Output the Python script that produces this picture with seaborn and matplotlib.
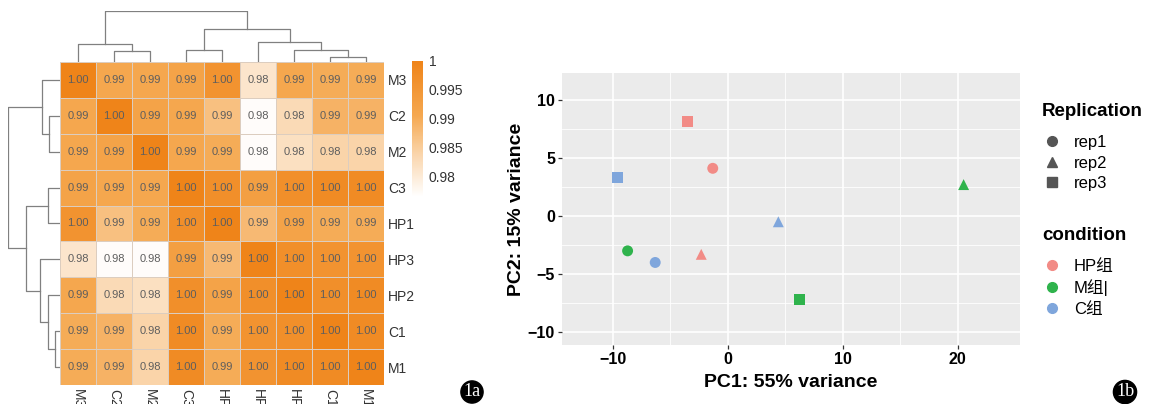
import numpy as np
import pandas as pd
import matplotlib
matplotlib.use("Agg")
import matplotlib.pyplot as plt
from matplotlib.colors import LinearSegmentedColormap
from matplotlib.lines import Line2D
import seaborn as sns

plt.rcParams['font.family'] = ['Liberation Sans', 'Noto Sans CJK SC', 'DejaVu Sans']

# ---- heatmap data (sample correlation, already in clustered order)
samples = ["M3", "C2", "M2", "C3", "HP1", "HP3", "HP2", "C1", "M1"]
r_M3 = [1.000, 0.991, 0.991, 0.992, 0.996, 0.981, 0.991, 0.990, 0.990]
r_C2 = [0.991, 1.000, 0.992, 0.991, 0.987, 0.977, 0.983, 0.989, 0.989]
r_M2 = [0.991, 0.992, 1.000, 0.991, 0.990, 0.977, 0.982, 0.984, 0.984]
r_C3 = [0.992, 0.991, 0.991, 1.000, 0.997, 0.993, 0.997, 0.998, 0.998]
r_HP1 = [0.996, 0.987, 0.990, 0.997, 1.000, 0.988, 0.992, 0.990, 0.990]
r_HP3 = [0.981, 0.977, 0.977, 0.993, 0.988, 1.000, 0.997, 0.996, 0.996]
r_HP2 = [0.991, 0.983, 0.982, 0.997, 0.992, 0.997, 1.000, 0.997, 0.998]
r_C1 = [0.990, 0.989, 0.984, 0.998, 0.990, 0.996, 0.997, 1.000, 0.998]
r_M1 = [0.990, 0.989, 0.984, 0.998, 0.990, 0.996, 0.998, 0.998, 1.000]
cbar_ticks = [1.0, 0.995, 0.99, 0.985, 0.98]
cbar_ticklabels = ["1", "0.995", "0.99", "0.985", "0.98"]

# linkage (same tree for rows and columns): (left, right, height)
merges = [(7, 8, 5), (1, 2, 11), (3, 4, 12), (6, 9, 12),
          (0, 10, 18), (5, 12, 20), (11, 14, 33), (13, 15, 51)]

# ---- PCA data
pc1 = [-1.3, -2.3, -3.5, -8.7, 20.5, 6.2, -6.3, 4.4, -9.6]
pc2 = [4.1, -3.3, 8.1, -3.0, 2.7, -7.2, -4.0, -0.5, 3.3]
condition = ["HP组", "HP组", "HP组", "M组|", "M组|", "M组|", "C组", "C组", "C组"]
replication = ["rep1", "rep2", "rep3", "rep1", "rep2", "rep3", "rep1", "rep2", "rep3"]
cond_levels = ["HP组", "M组|", "C组"]
rep_levels = ["rep1", "rep2", "rep3"]
cond_colors = ["#F28B86", "#2FB34C", "#7FA6DC"]
rep_markers = ["o", "^", "s"]

W, H = 1156, 404
fig = plt.figure(figsize=(W / 100, H / 100), dpi=100)


def px_axes(x0, y0, x1, y1):
    return fig.add_axes([x0 / W, 1 - y1 / H, (x1 - x0) / W, (y1 - y0) / H])


def draw_dendro(ax, orient):
    n = len(samples)
    pos = {i: i + 0.5 for i in range(n)}
    hgt = {i: 0.0 for i in range(n)}
    for k, (a, b, h) in enumerate(merges):
        xs = [pos[a], pos[a], pos[b], pos[b]]
        ys = [hgt[a], h, h, hgt[b]]
        if orient == "top":
            ax.plot(xs, ys, color="#808080", lw=0.9)
        else:
            ax.plot(ys, xs, color="#808080", lw=0.9)
        pos[n + k] = (pos[a] + pos[b]) / 2
        hgt[n + k] = h
    ax.axis("off")


corr = pd.DataFrame([r_M3, r_C2, r_M2, r_C3, r_HP1, r_HP3, r_HP2, r_C1, r_M1],
                    index=samples, columns=samples)
cmap = LinearSegmentedColormap.from_list(
    "wo", [(0, "#ffffff"), (0.3, "#FAD7AF"), (0.6, "#F5A850"), (1.0, "#EF8419")])

ax_hm = px_axes(60, 62, 384, 385)
cax = px_axes(412, 61, 423, 197)
sns.heatmap(corr, ax=ax_hm, cbar_ax=cax, cmap=cmap, vmin=0.9765, vmax=1.0,
            annot=True, fmt=".2f", linewidths=0.6, linecolor="#dccdbf",
            annot_kws=dict(size=8, color="#5e5e5e"))
ax_hm.yaxis.tick_right()
ax_hm.set_yticklabels(samples, rotation=0, fontsize=10, color="#333333")
ax_hm.set_xticklabels(samples, rotation=270, fontsize=10, color="#333333", va="top")
ax_hm.tick_params(length=0, pad=3)
ax_hm.set_xlabel("")
ax_hm.set_ylabel("")

cb = ax_hm.collections[0].colorbar
cb.outline.set_visible(False)
cb.set_ticks(cbar_ticks)
cb.set_ticklabels(cbar_ticklabels)
cax.tick_params(length=0, labelsize=10, labelcolor="#333333", pad=4)

ax_top = px_axes(60, 11, 384, 62)
draw_dendro(ax_top, "top")
ax_top.set_xlim(0, len(samples))
ax_top.set_ylim(0, 51)

ax_left = px_axes(8, 62, 60, 385)
draw_dendro(ax_left, "left")
ax_left.set_ylim(len(samples), 0)
ax_left.set_xlim(51, 0)

# ---- PCA panel
pca = pd.DataFrame({"PC1": pc1, "PC2": pc2, "condition": condition, "Replication": replication})
ax = px_axes(562, 73, 1020, 345)
ax.set_facecolor("#EBEBEB")
sns.scatterplot(data=pca, x="PC1", y="PC2", hue="condition", style="Replication",
                hue_order=cond_levels, style_order=rep_levels,
                palette=dict(zip(cond_levels, cond_colors)),
                markers=dict(zip(rep_levels, rep_markers)),
                s=62, linewidth=0, legend=False, ax=ax, zorder=3)
ax.set_xlim(-14.4, 25.4)
ax.set_ylim(-11.1, 12.3)
ax.set_xticks([-10, 0, 10, 20])
ax.set_yticks([-10, -5, 0, 5, 10])
ax.set_xticks([-5, 5, 15], minor=True)
ax.set_yticks([-7.5, -2.5, 2.5, 7.5], minor=True)
ax.set_xticklabels(["\u221210", "0", "10", "20"])
ax.set_yticklabels(["\u221210", "\u22125", "0", "5", "10"])
ax.grid(which="major", color="white", lw=1.2)
ax.grid(which="minor", color="white", lw=0.6)
ax.set_axisbelow(True)
for s in ax.spines.values():
    s.set_visible(False)
ax.tick_params(which="major", length=3, width=0.9, color="#333333",
               labelsize=11.5, labelcolor="black", pad=2)
ax.tick_params(which="minor", length=0)
for t in ax.get_xticklabels() + ax.get_yticklabels():
    t.set_fontweight("bold")
ax.set_xlabel("PC1: 55% variance", fontsize=14, fontweight="bold", labelpad=5)
ax.set_ylabel("PC2: 15% variance", fontsize=14, fontweight="bold", labelpad=2)

# legends: titles as text, keys as title-less legends
fig.text(1042 / W, 1 - 112 / H, "Replication", fontsize=13.5, fontweight="bold", va="center")
fig.text(1042 / W, 1 - 236 / H, "condition", fontsize=13.5, fontweight="bold", va="center")
rep_handles = [Line2D([], [], marker=m, ls="", color="#555555", markersize=7) for m in rep_markers]
cond_handles = [Line2D([], [], marker="o", ls="", color=c, markersize=7) for c in cond_colors]
for handles, labels, ytop in [(rep_handles, rep_levels, 135), (cond_handles, cond_levels, 259)]:
    fig.legend(handles, labels, loc="upper left", bbox_to_anchor=(1044 / W, 1 - ytop / H),
               frameon=False, fontsize=12, handlelength=1.0, handletextpad=0.8,
               labelspacing=0.33, borderpad=0, borderaxespad=0)

# panel badges
for bx, lab in [(472, "1a"), (1125, "1b")]:
    fig.text(bx / W, 1 - 392 / H, lab, color="white", fontsize=13, family="Liberation Serif",
             ha="center", va="center",
             bbox=dict(boxstyle="circle,pad=0.14", fc="black", ec="black"))

fig.savefig("out.png", dpi=100)
